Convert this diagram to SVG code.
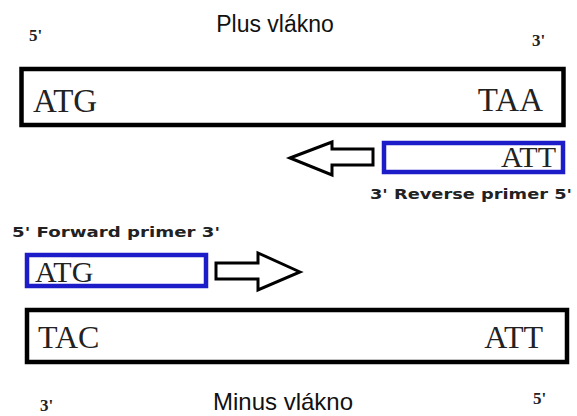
<svg xmlns="http://www.w3.org/2000/svg" width="577" height="416" viewBox="0 0 577 416">
<style>
.strand{fill:#fff;stroke:#000;stroke-width:4.5}
.primer{fill:#fff;stroke:#1c1cc8;stroke-width:4.5}
.seq{font-family:"Liberation Serif",serif;fill:#222}
.end{font-family:"Liberation Serif",serif;font-size:17px;font-weight:bold;fill:#222}
.title{font-family:"Liberation Sans",sans-serif;fill:#111}
.lab{font-family:"DejaVu Sans",sans-serif;font-size:14px;font-weight:bold;fill:#222}
.arrow{fill:#fff;stroke:#000;stroke-width:3;stroke-linejoin:miter}
</style>
<rect width="577" height="416" fill="#fff"/>
<g id="plus-strand">
<text class="title" x="275" y="32" font-size="23" text-anchor="middle">Plus vlákno</text>
<text class="end" x="29" y="41">5'</text>
<text class="end" x="532" y="46">3'</text>
<rect class="strand" x="21.5" y="69" width="542" height="56"/>
<text class="seq" x="33" y="112" font-size="33">ATG</text>
<text class="seq" x="543" y="111" font-size="33" text-anchor="end">TAA</text>
</g>
<g id="reverse-primer">
<rect class="primer" x="384" y="143" width="179" height="29"/>
<text class="seq" x="556" y="167" font-size="30" text-anchor="end">ATT</text>
<text class="lab" x="370" y="199" textLength="202" lengthAdjust="spacingAndGlyphs">3' Reverse primer 5'</text>
</g>
<g id="forward-primer">
<text class="lab" x="12" y="237" textLength="208" lengthAdjust="spacingAndGlyphs">5' Forward primer 3'</text>
<rect class="primer" x="27" y="255" width="179" height="31"/>
<text class="seq" x="35" y="282" font-size="30">ATG</text>
</g>
<g id="minus-strand">
<rect class="strand" x="27" y="310" width="540" height="52"/>
<text class="seq" x="38" y="348" font-size="32">TAC</text>
<text class="seq" x="543" y="348" font-size="32" text-anchor="end">ATT</text>
<text class="end" x="40" y="411">3'</text>
<text class="end" x="533" y="404">5'</text>
<text class="title" x="283" y="410" font-size="24" text-anchor="middle">Minus vlákno</text>
</g>
<g id="connectors">
<polygon class="arrow" points="290,158 332,142 332,149 373,149 373,165 332,165 332,175"/>
<polygon class="arrow" points="300,272 258,253 258,263 216,263 216,279 258,279 258,290"/>
</g>
</svg>
